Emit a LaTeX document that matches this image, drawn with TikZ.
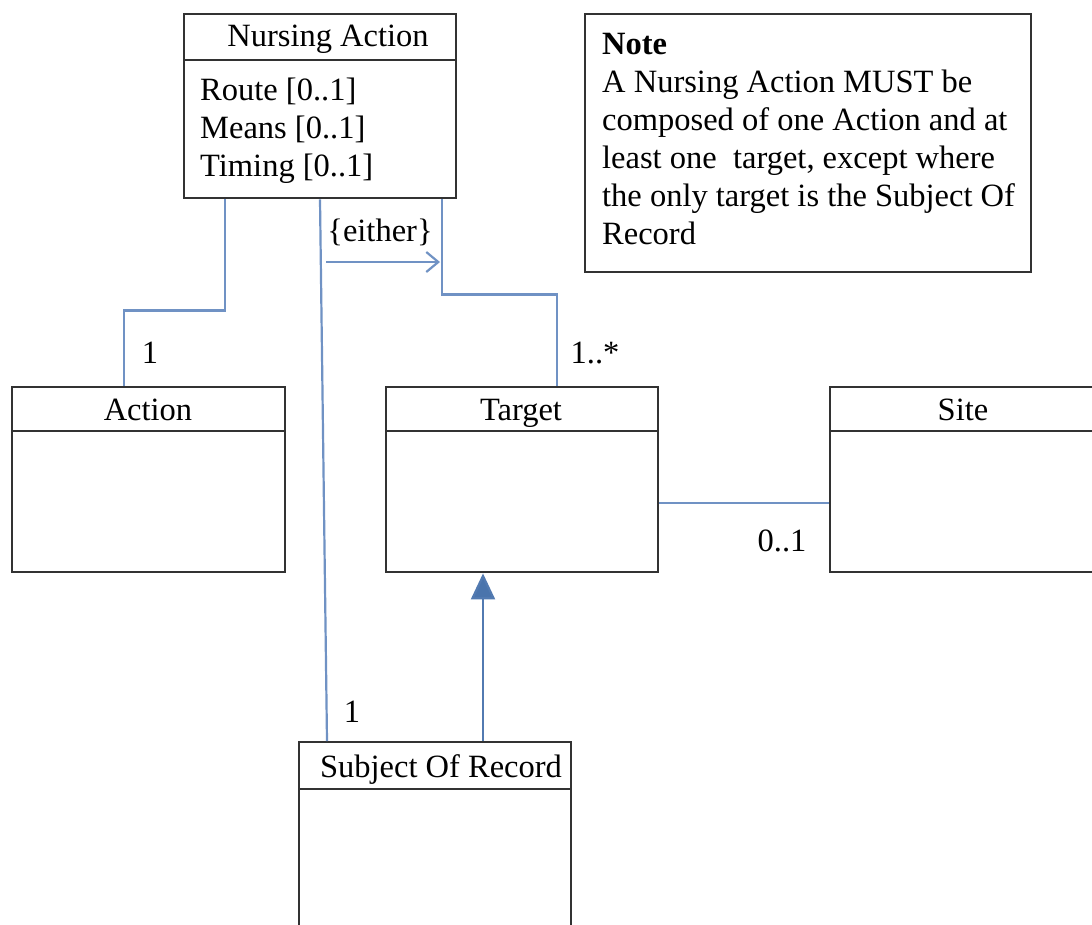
\documentclass[tikz,border=0pt]{standalone}
\usepackage{fontspec}
\setmainfont{Liberation Serif}
\usetikzlibrary{arrows.meta}
\definecolor{linkblue}{RGB}{112,146,196}
\definecolor{tipblue}{RGB}{74,116,172}
\definecolor{boxgray}{RGB}{50,50,50}
\begin{document}
\begin{tikzpicture}[x=1pt,y=-1pt,
  every node/.style={font=\fontsize{32.5}{38}\selectfont, text=black},
  umlbox/.style={draw=boxgray, line width=2.4pt, fill=white, anchor=north west, inner sep=0pt, minimum width=272pt},
  divider/.style={draw=boxgray, line width=2.4pt},
  assoc/.style={draw=linkblue, line width=2.2pt},
  lbl/.style={inner sep=0pt}
]
\clip (0,0) rectangle (1092,924);
\fill[white] (0,0) rectangle (1092,924);

% boxes
\node[umlbox, minimum height=184pt] (na) at (183,13) {};
\node[umlbox, minimum width=446pt, minimum height=258pt] (note) at (584,13) {};
\node[umlbox, minimum width=273pt, minimum height=185pt] (act) at (11,386) {};
\node[umlbox, minimum height=185pt] (tgt) at (385,386) {};
\node[umlbox, minimum height=185pt] (site) at (829,386) {};
\node[umlbox, minimum height=260pt] (sor) at (298,741) {};

% dividers
\draw[divider] ([yshift=-47pt]na.north west) -- ([yshift=-47pt]na.north east);
\draw[divider] ([yshift=-45pt]act.north west) -- ([yshift=-45pt]act.north east);
\draw[divider] ([yshift=-45pt]tgt.north west) -- ([yshift=-45pt]tgt.north east);
\draw[divider] ([yshift=-45pt]site.north west) -- ([yshift=-45pt]site.north east);
\draw[divider] ([yshift=-48pt]sor.north west) -- ([yshift=-48pt]sor.north east);

% texts
\node[lbl] (natitle) at (328,39) {Nursing Action};
\node[lbl, anchor=north west, align=left] (naattr) at (200,78) {Route [0..1]\\Means [0..1]\\Timing [0..1]};
\node[lbl, anchor=north west, align=left] (notetext) at (602,33) {\textbf{Note}\\A Nursing Action MUST be\\composed of one Action and at\\least one\ \ target, except where\\the only target is the Subject Of\\Record};
\node[lbl] (acttitle) at (148,410) {Action};
\node[lbl] (tgttitle) at (521,413) {Target};
\node[lbl] (sitetitle) at (963,410) {Site};
\node[lbl] (sortitle) at (441,770) {Subject Of Record};

% connectors
\draw[assoc] ([xshift=42pt]na.south west) -- ++(0,111) -| ([xshift=113pt]act.north west);
\draw[assoc] ([xshift=259pt]na.south west) -- ++(0,95) -| ([xshift=172pt]tgt.north west);
\draw[assoc] ([xshift=137pt]na.south west) -- ([xshift=29pt]sor.north west);
\draw[assoc] ([yshift=-23pt]tgt.east) -- ([yshift=-23pt]site.west);
\draw[assoc, -{Triangle[length=26pt,width=24pt,fill=tipblue]}, tipblue!80!linkblue] ([xshift=185pt]sor.north west) -- ([xshift=98pt]tgt.south west);

\coordinate (e1) at (326,262);
\coordinate (e2) at (440,262);
\draw[assoc, -{Straight Barb[length=12pt,width=20pt,line width=2.2pt]}] (e1) -- (e2);

% labels
\node[lbl] (m1) at (150,353) {1};
\node[lbl] (m2) at (595,353) {1..*};
\node[lbl] (either) at (380,232) {\{either\}};
\node[lbl] (m3) at (352,712) {1};
\node[lbl] (m4) at (782,541) {0..1};
\end{tikzpicture}
\end{document}
